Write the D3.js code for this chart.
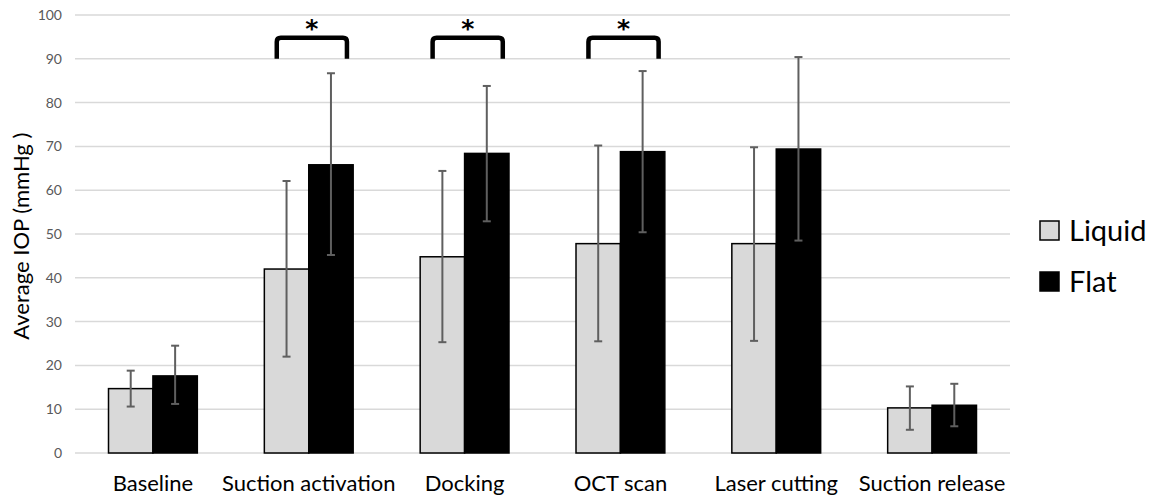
<!DOCTYPE html>
<html>
<head>
<meta charset="utf-8">
<script src="https://cdn.jsdelivr.net/npm/d3@7"></script>
<style>
  body { margin: 0; background: #fff; }
  svg text { font-family: Lato, "Open Sans", sans-serif; }
</style>
</head>
<body>
<svg id="chart" width="1162" height="497"></svg>
<script>
const categories = ["Baseline", "Suction activation", "Docking", "OCT scan", "Laser cutting", "Suction release"];
const seriesNames = ["Liquid", "Flat"];
const liquidMean = [14.7, 42.0, 44.8, 47.8, 47.8, 10.3];
const liquidLow  = [10.6, 22.0, 25.3, 25.5, 25.6, 5.3];
const liquidHigh = [18.8, 62.1, 64.4, 70.2, 69.8, 15.2];
const flatMean = [17.6, 65.8, 68.4, 68.8, 69.4, 10.9];
const flatLow  = [11.2, 45.2, 52.9, 50.4, 48.5, 6.1];
const flatHigh = [24.5, 86.7, 83.8, 87.2, 90.4, 15.8];
const yTicks = [0, 10, 20, 30, 40, 50, 60, 70, 80, 90, 100];
const significant = ["Suction activation", "Docking", "OCT scan"];

const colors = { Liquid: "#d9d9d9", Flat: "#000000" };

const svg = d3.select("#chart");
const plot = { left: 75, right: 1010, top: 15, bottom: 453 };

const x = d3.scaleBand()
  .domain(categories)
  .range([plot.left, plot.right])
  .paddingInner(0.43)
  .paddingOuter(0.215);

const xs = d3.scaleBand()
  .domain(seriesNames)
  .range([0, x.bandwidth()]);

const y = d3.scaleLinear()
  .domain([0, 100])
  .range([plot.bottom, plot.top]);

// gridlines
svg.append("g")
  .selectAll("line")
  .data(yTicks)
  .enter().append("line")
  .attr("x1", plot.left)
  .attr("x2", plot.right)
  .attr("y1", d => y(d))
  .attr("y2", d => y(d))
  .attr("stroke", "#d9d9d9")
  .attr("stroke-width", 1.5);

// y axis labels
const yAxis = svg.append("g")
  .attr("transform", `translate(${plot.left - 13},0)`)
  .call(d3.axisLeft(y).tickValues(yTicks).tickSize(0).tickPadding(0));
yAxis.select(".domain").remove();
yAxis.selectAll("text")
  .attr("fill", "#595959")
  .style("font-size", "14px")
  .style("font-family", "Lato, sans-serif");

// x axis labels
const xAxis = svg.append("g")
  .attr("transform", `translate(0,${plot.bottom})`)
  .call(d3.axisBottom(x).tickSize(0).tickPadding(22));
xAxis.select(".domain").remove();
xAxis.selectAll("text")
  .attr("fill", "#000")
  .style("font-size", "22px")
  .style("font-family", "Lato, sans-serif");

// y title
svg.append("text")
  .attr("transform", `translate(29,${y(49.5)}) rotate(-90)`)
  .attr("text-anchor", "middle")
  .attr("fill", "#000")
  .style("font-size", "22px")
  .text("Average IOP (mmHg )");

const rows = categories.map((c, i) => ({
  cat: c,
  values: [
    { s: "Liquid", v: liquidMean[i], lo: liquidLow[i], hi: liquidHigh[i] },
    { s: "Flat", v: flatMean[i], lo: flatLow[i], hi: flatHigh[i] }
  ]
}));

const groups = svg.append("g")
  .selectAll("g")
  .data(rows)
  .enter().append("g")
  .attr("transform", d => `translate(${x(d.cat)},0)`);

groups.selectAll("rect")
  .data(d => d.values)
  .enter().append("rect")
  .attr("x", d => xs(d.s))
  .attr("width", xs.bandwidth())
  .attr("y", d => y(d.v))
  .attr("height", d => y(0) - y(d.v))
  .attr("fill", d => colors[d.s])
  .attr("stroke", "#000")
  .attr("stroke-width", 1.5);

// error bars
const err = groups.selectAll("g.err")
  .data(d => d.values)
  .enter().append("g")
  .attr("class", "err")
  .attr("stroke", "#5f5f5f")
  .attr("stroke-width", 2);
err.append("line")
  .attr("x1", d => xs(d.s) + xs.bandwidth() / 2)
  .attr("x2", d => xs(d.s) + xs.bandwidth() / 2)
  .attr("y1", d => y(d.lo))
  .attr("y2", d => y(d.hi));
err.selectAll("line.cap")
  .data(d => [d.lo, d.hi].map(v => ({ s: d.s, v })))
  .enter().append("line")
  .attr("class", "cap")
  .attr("x1", d => xs(d.s) + xs.bandwidth() / 2 - 4)
  .attr("x2", d => xs(d.s) + xs.bandwidth() / 2 + 4)
  .attr("y1", d => y(d.v))
  .attr("y2", d => y(d.v));

// significance brackets
const br = svg.append("g")
  .selectAll("g")
  .data(significant)
  .enter().append("g")
  .attr("transform", d => `translate(${x(d)},0)`);
br.append("path")
  .attr("d", () => {
    const x0 = x.bandwidth() * 0.14, x1 = x.bandwidth() * 0.93;
    const yb = y(90), yt = y(94.8), r = 4;
    return `M${x0},${yb} V${yt + r} Q${x0},${yt} ${x0 + r},${yt} H${x1 - r} Q${x1},${yt} ${x1},${yt + r} V${yb}`;
  })
  .attr("fill", "none")
  .attr("stroke", "#000")
  .attr("stroke-width", 4.5);
br.append("text")
  .attr("x", x.bandwidth() * 0.535)
  .attr("y", y(94.8) - 1)
  .attr("text-anchor", "middle")
  .style("font-size", "25px")
  .style("font-weight", "bold")
  .style("font-family", "'DejaVu Sans', sans-serif")
  .attr("fill", "#000")
  .text("*");

// legend
const legend = svg.append("g")
  .selectAll("g")
  .data(seriesNames)
  .enter().append("g")
  .attr("transform", (d, i) => `translate(1040,${221 + i * 51})`);
legend.append("rect")
  .attr("width", 19)
  .attr("height", 19)
  .attr("fill", d => colors[d])
  .attr("stroke", "#000")
  .attr("stroke-width", 1.5);
legend.append("text")
  .attr("x", 29)
  .attr("y", 20)
  .style("font-size", "29px")
  .attr("fill", "#000")
  .text(d => d);
</script>
</body>
</html>
